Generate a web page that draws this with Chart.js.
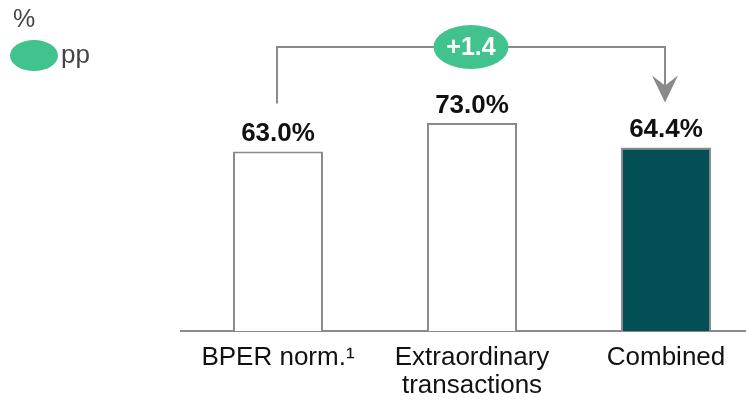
<!DOCTYPE html>
<html>
<head>
<meta charset="utf-8">
<script src="https://cdn.jsdelivr.net/npm/chart.js@4/dist/chart.umd.min.js"></script>
<style>
  html, body { margin: 0; padding: 0; background: #fff; overflow: hidden; }
  #wrap { width: 770px; height: 401px; }
</style>
</head>
<body>
<div id="wrap"><canvas id="c" width="770" height="401"></canvas></div>
<script>
// cost/income ratio, %
var categories = [['BPER norm.\u00b9'], ['Extraordinary', 'transactions'], ['Combined']];
var values = [63.0, 73.0, 64.4];
var fills = ['#ffffff', '#ffffff', '#034f56'];
var deltaLabel = '+1.4';
var unitLabel = '%';
var deltaUnit = 'pp';

var GREEN = '#41c38e';
var GREY = '#8a8a8a';
var FONT = '"Liberation Sans", Arial, sans-serif';

function fmtPct(v) { return v.toFixed(1) + '%'; }

// labels on top of bars, the bracket + pill between first and last bar, legend in the corner
var overlay = {
  id: 'overlay',
  afterDatasetsDraw: function (chart) {
    var ctx = chart.ctx;
    var meta = chart.getDatasetMeta(0);
    var y = chart.scales.y;

    ctx.save();
    ctx.fillStyle = '#111';
    ctx.font = 'bold 26px ' + FONT;
    ctx.textAlign = 'center';
    ctx.textBaseline = 'alphabetic';
    meta.data.forEach(function (bar, i) {
      ctx.fillText(fmtPct(values[i]), bar.x, bar.y - 10);
    });

    // bracket
    var first = meta.data[0], last = meta.data[meta.data.length - 1];
    var xa = first.x - 1, xb = last.x - 1;
    var top = y.getPixelForValue(100) + 1;
    var ya = first.y - 48;
    var tip = last.y - 45;
    ctx.strokeStyle = GREY;
    ctx.lineWidth = 2;
    ctx.beginPath();
    ctx.moveTo(xa, ya);
    ctx.lineTo(xa, top);
    ctx.lineTo(xb, top);
    ctx.lineTo(xb, tip - 12);
    ctx.stroke();
    ctx.fillStyle = GREY;
    ctx.beginPath();
    ctx.moveTo(xb, tip);
    ctx.lineTo(xb - 13, tip - 27);
    ctx.lineTo(xb, tip - 17);
    ctx.lineTo(xb + 13, tip - 27);
    ctx.closePath();
    ctx.fill();

    // delta pill
    var mid = meta.data[1].x - 1;
    ctx.fillStyle = GREEN;
    ctx.beginPath();
    ctx.ellipse(mid, top, 37.5, 22, 0, 0, Math.PI * 2);
    ctx.fill();
    ctx.fillStyle = '#fff';
    ctx.font = 'bold 25px ' + FONT;
    ctx.textBaseline = 'middle';
    ctx.fillText(deltaLabel, mid, top + 1);

    // legend
    ctx.textAlign = 'left';
    ctx.fillStyle = '#444';
    ctx.font = '25px ' + FONT;
    ctx.fillText(unitLabel, 13, 20);
    ctx.fillStyle = GREEN;
    ctx.beginPath();
    ctx.ellipse(34, 55.5, 24, 15.5, 0, 0, Math.PI * 2);
    ctx.fill();
    ctx.fillStyle = '#444';
    ctx.font = '26px ' + FONT;
    ctx.fillText(deltaUnit, 61, 56);
    ctx.restore();
  }
};

new Chart(document.getElementById('c'), {
  type: 'bar',
  data: {
    labels: categories,
    datasets: [{
      data: values,
      backgroundColor: fills,
      borderColor: GREY,
      borderWidth: 2,
      borderSkipped: 'bottom',
      barPercentage: 0.464,
      categoryPercentage: 1
    }]
  },
  options: {
    responsive: false,
    devicePixelRatio: 1,
    animation: false,
    layout: { padding: { left: 181, right: 7, top: 46, bottom: 0 } },
    plugins: { legend: { display: false }, tooltip: { enabled: false } },
    scales: {
      x: {
        grid: { display: false, drawTicks: false },
        border: { display: true, color: GREY, width: 2 },
        ticks: {
          color: '#111',
          padding: 13,
          font: { family: FONT, size: 26, lineHeight: 1.08 },
          maxRotation: 0,
          autoSkip: false
        },
        afterFit: function (s) { s.height = 70; }
      },
      y: {
        display: false,
        min: 0,
        max: 100
      }
    }
  },
  plugins: [overlay]
});
</script>
</body>
</html>
